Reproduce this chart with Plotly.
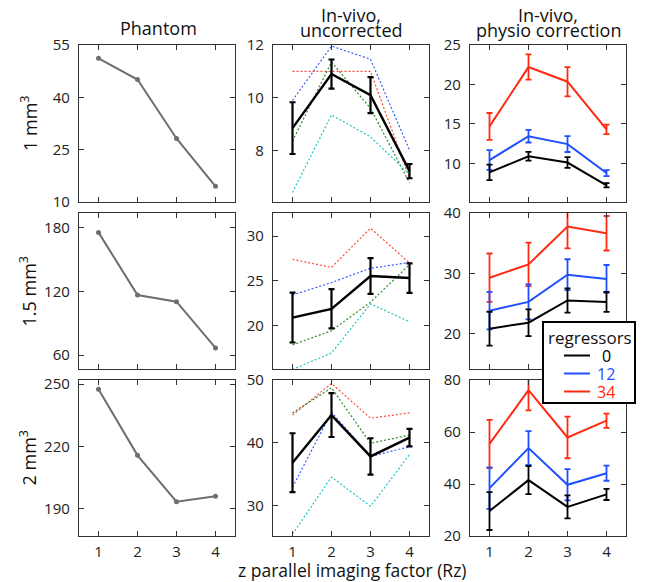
import plotly.graph_objects as go

# ---------------- data ----------------
rz = [1, 2, 3, 4]
x_ticks = [1, 2, 3, 4]
row_labels = ["1 mm<sup>3</sup>", "1.5 mm<sup>3</sup>", "2 mm<sup>3</sup>"]
col_titles = [["Phantom"], ["In-vivo,", "uncorrected"], ["In-vivo,", "physio correction"]]
x_title = "z parallel imaging factor (Rz)"
legend_title = "regressors"
regressor_names = ["0", "12", "34"]

# Phantom
phantom_1mm = [51.2, 45.1, 28.2, 14.5]
phantom_15mm = [175.7, 116.6, 110.3, 66.7]
phantom_2mm = [247.6, 215.8, 193.5, 196.1]

# In-vivo uncorrected: mean +/- error and individual subjects (dotted)
unc_1mm_mean = [8.85, 10.9, 10.1, 7.22]
unc_1mm_err = [0.98, 0.55, 0.68, 0.27]
unc_1mm_red = [11.0, 11.0, 11.0, 6.95]
unc_1mm_blue = [9.9, 11.96, 11.46, 8.02]
unc_1mm_green = [8.36, 11.35, 9.6, 6.78]
unc_1mm_cyan = [6.41, 9.35, 8.52, 7.1]

unc_15mm_mean = [20.87, 21.85, 25.53, 25.3]
unc_15mm_err = [2.8, 2.2, 2.0, 1.65]
unc_15mm_red = [27.4, 26.5, 30.9, 27.0]
unc_15mm_blue = [23.4, 24.8, 26.4, 27.05]
unc_15mm_green = [17.8, 19.4, 22.6, 26.8]
unc_15mm_cyan = [15.05, 16.9, 22.4, 20.4]

unc_2mm_mean = [36.8, 44.4, 37.8, 40.8]
unc_2mm_err = [4.7, 3.5, 2.9, 1.4]
unc_2mm_red = [44.4, 49.45, 43.9, 44.75]
unc_2mm_blue = [32.9, 44.85, 37.8, 39.35]
unc_2mm_green = [44.75, 48.75, 39.9, 41.2]
unc_2mm_cyan = [25.4, 34.5, 29.85, 38.1]

# In-vivo physio correction: regressors 0 / 12 / 34
phy_1mm_r0 = [8.85, 10.9, 10.1, 7.22]
phy_1mm_r0_err = [0.98, 0.55, 0.68, 0.27]
phy_1mm_r12 = [10.42, 13.44, 12.44, 8.77]
phy_1mm_r12_err = [1.25, 0.8, 1.0, 0.38]
phy_1mm_r34 = [14.68, 22.2, 20.35, 14.3]
phy_1mm_r34_err = [1.7, 1.6, 1.85, 0.6]

phy_15mm_r0 = [20.87, 21.85, 25.53, 25.3]
phy_15mm_r0_err = [2.8, 2.2, 2.0, 1.65]
phy_15mm_r12 = [23.85, 25.3, 29.8, 29.1]
phy_15mm_r12_err = [3.1, 2.9, 2.55, 2.3]
phy_15mm_r34 = [29.3, 31.5, 37.75, 36.65]
phy_15mm_r34_err = [4.0, 3.6, 3.6, 2.85]

phy_2mm_r0 = [29.6, 41.5, 31.2, 36.0]
phy_2mm_r0_err = [7.3, 5.4, 4.4, 2.15]
phy_2mm_r12 = [38.4, 53.8, 39.7, 44.15]
phy_2mm_r12_err = [8.0, 6.5, 6.0, 2.9]
phy_2mm_r34 = [55.4, 76.1, 57.9, 64.35]
phy_2mm_r34_err = [9.3, 7.8, 8.0, 2.75]

# axis ranges / ticks per panel (row, col)
y_ranges = [[[10, 55], [6.05, 12], [5.1, 25]],
            [[46.8, 194], [15.1, 32.6], [14.2, 40]],
            [[177, 252], [25.1, 50], [20, 80]]]
y_ticks = [[[10, 25, 40, 55], [8, 10, 12], [10, 15, 20, 25]],
           [[60, 120, 180], [20, 25, 30], [20, 30, 40]],
           [[190, 220, 250], [30, 40, 50], [20, 40, 60, 80]]]

# ---------------- layout geometry (page pixel coords) ----------------
W, H = 647, 582
PLOT_L, PLOT_R, PLOT_T, PLOT_B = 79, 626, 45, 536
L, T = PLOT_L, PLOT_T
R, B = W - PLOT_R, H - PLOT_B
PW, PH = PLOT_R - PLOT_L, PLOT_B - PLOT_T
col_px = [(79, 235), (273, 429), (470, 626)]
row_px = [(45, 202), (213, 369), (380, 536)]


def xp(px):
    return (px - PLOT_L) / PW


def yp(py):
    return (PLOT_B - py) / PH


FONT = "Open Sans"
AX_COLOR = "#333333"
C_RED_DOT, C_BLUE_DOT, C_GREEN_DOT, C_CYAN_DOT = "#ff4a3a", "#3a5cff", "#2e8b2e", "#22c4c4"
C_BLACK, C_BLUE, C_RED = "#000000", "#1f4fff", "#ff2a10"
C_GRAY = "#6e6e6e"

fig = go.Figure()


def ax_id(r, c):
    return r * 3 + c + 1


def add(trace, r, c):
    n = ax_id(r, c)
    trace.update(xaxis="x" if n == 1 else f"x{n}", yaxis="y" if n == 1 else f"y{n}")
    fig.add_trace(trace)


phantoms = [phantom_1mm, phantom_15mm, phantom_2mm]
uncs = [
    (unc_1mm_mean, unc_1mm_err, [unc_1mm_red, unc_1mm_blue, unc_1mm_green, unc_1mm_cyan]),
    (unc_15mm_mean, unc_15mm_err, [unc_15mm_red, unc_15mm_blue, unc_15mm_green, unc_15mm_cyan]),
    (unc_2mm_mean, unc_2mm_err, [unc_2mm_red, unc_2mm_blue, unc_2mm_green, unc_2mm_cyan]),
]
phys = [
    [(phy_1mm_r0, phy_1mm_r0_err), (phy_1mm_r12, phy_1mm_r12_err), (phy_1mm_r34, phy_1mm_r34_err)],
    [(phy_15mm_r0, phy_15mm_r0_err), (phy_15mm_r12, phy_15mm_r12_err), (phy_15mm_r34, phy_15mm_r34_err)],
    [(phy_2mm_r0, phy_2mm_r0_err), (phy_2mm_r12, phy_2mm_r12_err), (phy_2mm_r34, phy_2mm_r34_err)],
]
dot_colors = [C_RED_DOT, C_BLUE_DOT, C_GREEN_DOT, C_CYAN_DOT]
reg_colors = [C_BLACK, C_BLUE, C_RED]

for r in range(3):
    # phantom
    add(go.Scatter(x=rz, y=phantoms[r], mode="lines+markers", showlegend=False,
                   line=dict(color=C_GRAY, width=2),
                   marker=dict(color=C_GRAY, size=5, symbol="circle")), r, 0)
    # uncorrected
    mean, err, subs = uncs[r]
    for s, col in zip(subs, dot_colors):
        add(go.Scatter(x=rz, y=s, mode="lines", showlegend=False,
                       line=dict(color=col, width=1.2, dash="2px,2px")), r, 1)
    add(go.Scatter(x=rz, y=mean, mode="lines", showlegend=False,
                   line=dict(color=C_BLACK, width=2.4),
                   error_y=dict(type="data", array=err, color=C_BLACK, thickness=2.2, width=3)), r, 1)
    # physio correction
    for k in [2, 1, 0]:
        vals, e = phys[r][k]
        col = reg_colors[k]
        add(go.Scatter(x=rz, y=vals, mode="lines", name=regressor_names[k], showlegend=False,
                       line=dict(color=col, width=2),
                       error_y=dict(type="data", array=e, color=col, thickness=1.8, width=3)), r, 2)

layout = dict(
    width=W, height=H, autosize=False,
    margin=dict(l=L, r=R, t=T, b=B, pad=0),
    paper_bgcolor="white", plot_bgcolor="white",
    font=dict(family=FONT, size=15, color="#222"),
    showlegend=False,
)

for r in range(3):
    for c in range(3):
        n = ax_id(r, c)
        xs = "" if n == 1 else str(n)
        common = dict(showline=True, linecolor=AX_COLOR, linewidth=1.3, mirror="ticks",
                      ticks="inside", ticklen=5, tickwidth=1.2, tickcolor=AX_COLOR,
                      showgrid=False, zeroline=False,
                      tickfont=dict(family=FONT, size=15, color="#222"))
        layout["xaxis" + xs] = dict(common, domain=[xp(col_px[c][0]), xp(col_px[c][1])],
                                    range=[0.5, 4.5], tickvals=x_ticks,
                                    showticklabels=(r == 2), ticklabelstandoff=2,
                                    anchor="y" + xs)
        layout["yaxis" + xs] = dict(common, domain=[yp(row_px[r][1]), yp(row_px[r][0])],
                                    range=y_ranges[r][c], tickvals=y_ticks[r][c],
                                    ticklabelstandoff=5, anchor="x" + xs)

ann = []
# column titles
col_centers = [158, 351, 548]
for c in range(3):
    lines = col_titles[c]
    if len(lines) == 1:
        ann.append(dict(x=xp(col_centers[c]), y=yp(27.5), text=lines[0]))
    else:
        ann.append(dict(x=xp(col_centers[c]), y=yp(15), text=lines[0]))
        ann.append(dict(x=xp(col_centers[c]), y=yp(30), text=lines[1]))
# row labels
for r in range(3):
    ann.append(dict(x=xp(28.5), y=yp((row_px[r][0] + row_px[r][1]) / 2), text=row_labels[r], textangle=-90))
for a in ann:
    a.update(xref="paper", yref="paper", showarrow=False, xanchor="center", yanchor="middle",
             font=dict(family=FONT, size=18, color="#111"))
# x title
ann.append(dict(xref="paper", yref="paper", x=xp(352), y=yp(569.5), text=x_title, showarrow=False,
                xanchor="center", yanchor="middle", font=dict(family=FONT, size=17.5, color="#111")))

# legend box (drawn as a framed key inside the lower-right panels)
LEG_L, LEG_R, LEG_T, LEG_B = 543, 635, 322, 403
shapes = [dict(type="rect", xref="paper", yref="paper", x0=xp(LEG_L), x1=xp(LEG_R), y0=yp(LEG_B), y1=yp(LEG_T),
               line=dict(color="black", width=2), fillcolor="white", layer="above")]
ann.append(dict(xref="paper", yref="paper", x=xp(590), y=yp(337), text=legend_title, showarrow=False,
                xanchor="center", yanchor="middle", font=dict(family=FONT, size=17, color="#111")))
item_y = [355.5, 373.5, 391.5]
for k in range(3):
    shapes.append(dict(type="line", xref="paper", yref="paper", x0=xp(564), x1=xp(590),
                       y0=yp(item_y[k]), y1=yp(item_y[k]), line=dict(color=reg_colors[k], width=2), layer="above"))
    ann.append(dict(xref="paper", yref="paper", x=xp(606), y=yp(item_y[k]), text=regressor_names[k],
                    showarrow=False, xanchor="center", yanchor="middle",
                    font=dict(family=FONT, size=16, color=reg_colors[k])))
layout["annotations"] = ann
layout["shapes"] = shapes

fig.update_layout(**layout)
# remove the default 8px page margin so the figure fills the 647x582 window exactly
fig.write_html("out.html", config={"displayModeBar": False},
               post_script="document.body.style.margin='0';")
